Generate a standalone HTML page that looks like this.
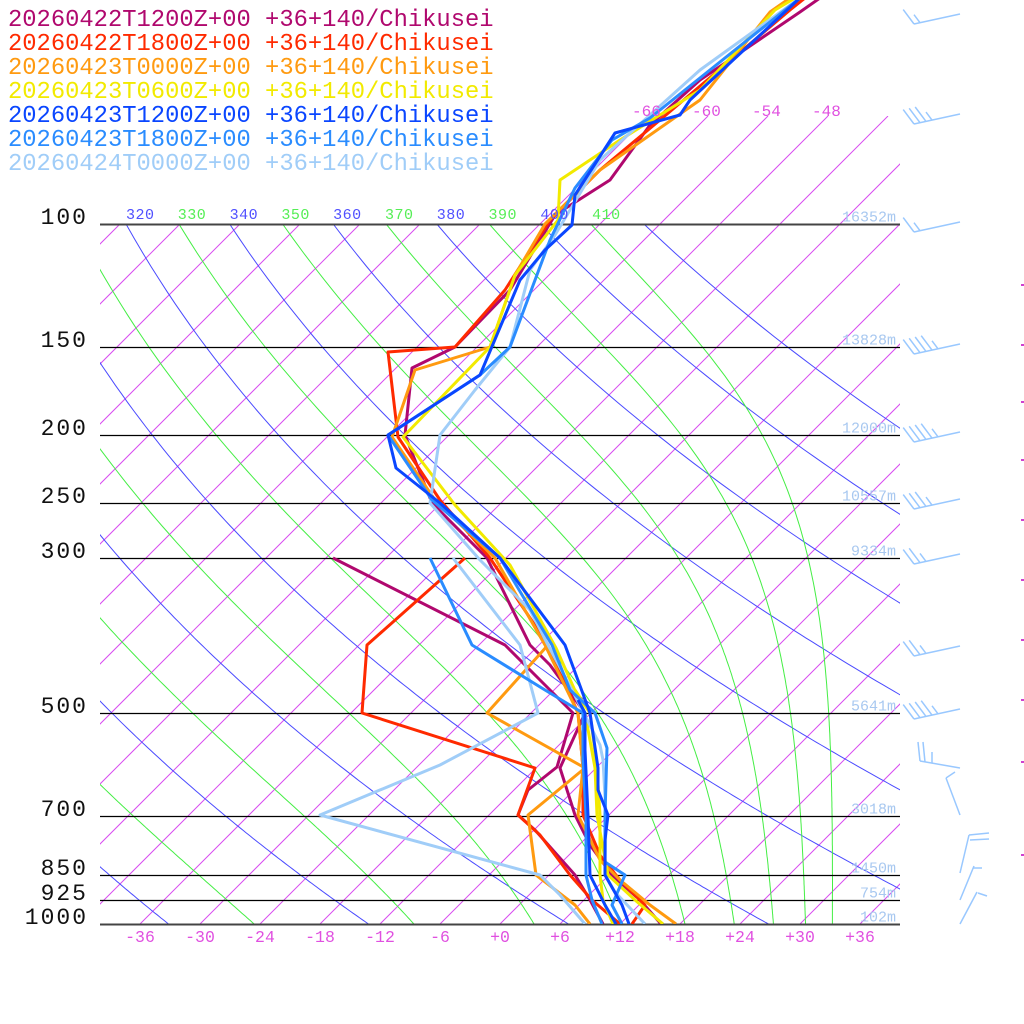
<!DOCTYPE html>
<html><head><meta charset="utf-8">
<style>
html,body{margin:0;padding:0;background:#fff;}
svg{display:block;}
text{font-family:"Liberation Mono",monospace;}
</style></head>
<body>
<svg id="s" width="1024" height="1024" viewBox="0 0 1024 1024" xmlns="http://www.w3.org/2000/svg">
<defs><clipPath id="cp"><rect x="100" y="0" width="800" height="924"/></clipPath>
<clipPath id="cpi"><rect x="100" y="116" width="800" height="808"/></clipPath></defs>
<g id="bg"></g>
<g id="lv"></g>
<g id="data" fill="none" stroke-width="3" stroke-linejoin="round" clip-path="url(#cp)"></g>
<g id="barbs" stroke="#99c8ff" stroke-width="1.5" fill="none"></g>
<g id="txt"></g>
</svg>
<script>
var NS="http://www.w3.org/2000/svg";
function el(p,tag,a,t){var e=document.createElementNS(NS,tag);for(var k in a)e.setAttribute(k,a[k]);if(t!==undefined)e.textContent=t;document.getElementById(p).appendChild(e);return e;}
function Y(p){return 924-304*Math.log(1000/p);}
function X(T,y){return 500+10*T+(924-y);}
var iso=[];
for(var T=-150;T<=40;T+=6){var y1=(T>=-66)?116:224,y2=924;iso.push("M"+X(T,y1)+","+y1+"L"+X(T,y2)+","+y2);}
var gi=el("bg","g",{"clip-path":"url(#cpi)"});
var pi=document.createElementNS(NS,"path");pi.setAttribute("d",iso.join(""));pi.setAttribute("stroke","#d84cf0");pi.setAttribute("stroke-width","1");pi.setAttribute("fill","none");gi.appendChild(pi);
var gc=el("bg","g",{"clip-path":"url(#cp)",fill:"none","stroke-width":"1"});
function dry(th){var d="";for(var p=100;p<=1000;p+=5){var y=Y(p);var T=th*Math.pow(p/1000,0.2857)-273.15;d+=(p==100?"M":"L")+X(T,y).toFixed(1)+","+y.toFixed(1);}return d;}
function the(T,p){var TK=T+273.15;var es=6.112*Math.exp(17.67*T/(T+243.5));var r=622*es/(p-es);if(r<0||p-es<=0)r=1e3;
return TK*Math.pow(1000/p,0.2854*(1-0.00028*r))*Math.exp((3.376/TK-0.00254)*r*(1+0.00081*r));}
function moist(te){var d="";for(var p=100;p<=1000;p+=5){var lo=-160,hi=45;for(var i=0;i<40;i++){var m=(lo+hi)/2;if(the(m,p)>te)hi=m;else lo=m;}var y=Y(p);d+=(p==100?"M":"L")+X(lo,y).toFixed(1)+","+y.toFixed(1);}return d;}
for(var th=200;th<=420;th+=20){var e=document.createElementNS(NS,"path");e.setAttribute("d",dry(th));e.setAttribute("stroke","#4a4aff");gc.appendChild(e);}
for(var te=210;te<=410;te+=20){var e=document.createElementNS(NS,"path");e.setAttribute("d",moist(te));e.setAttribute("stroke","#44ee44");gc.appendChild(e);}
for(var th=310;th<=410;th+=10){var T=th*Math.pow(0.1,0.2857)-273.15;var x=X(T,224);if(x<95)continue;
el("txt","text",{x:x,y:219,"font-size":"15","letter-spacing":"0.5",fill:(th%20==0)?"#5050ff":"#55ee55"},""+th);}
var lev=[[100,"100","16352m"],[150,"150","13828m"],[200,"200","12000m"],[250,"250","10557m"],[300,"300","9334m"],[500,"500","5641m"],[700,"700","3018m"],[850,"850","1450m"],[925,"925","754m"],[1000,"1000","102m"]];
lev.forEach(function(l){var y=Math.round(Y(l[0]))+0.5;var w=(l[0]==100||l[0]==1000)?2:1.2;
el("lv","line",{x1:100,x2:900,y1:y,y2:y,stroke:(w==2?"#444":"#000"),"stroke-width":w});
el("txt","text",{x:88,y:y-0.5,"text-anchor":"end","font-size":"23",fill:"#111","font-family":"Liberation Sans, sans-serif","letter-spacing":"2"},l[1]);
el("txt","text",{x:896,y:y-3,"text-anchor":"end","font-size":"15",fill:"#a8c8f0"},l[2]);});
for(var T=-36;T<=36;T+=6){el("txt","text",{x:500+10*T,y:942,"text-anchor":"middle","font-size":"16.5",fill:"#e050e0"},(T>=0?"+":"")+T);}
[-66,-60,-54,-48].forEach(function(T){el("txt","text",{x:X(T,116)-16,y:116,"font-size":"16",fill:"#e050e0"},""+T);});
var leg=[["20260422T1200Z+00","#b0086e"],["20260422T1800Z+00","#ff2a00"],["20260423T0000Z+00","#ff9a10"],["20260423T0600Z+00","#f2ea00"],["20260423T1200Z+00","#0a46ff"],["20260423T1800Z+00","#2a8cff"],["20260424T0000Z+00","#a0cdf8"]];
var cols=leg.map(function(l){return l[1];});
var D=[
[[661,924,640,900,612,875,590,845,575,815,560,768,585,713,550,665,530,645,487,558,432,503,405,435,412,368,455,347,510,290,555,215,610,180,650,125,700,80,800,12,820,-2],
 [603,924,590,900,575,875,535,830,518,815,528,790,557,767,573,713,545,685,505,645,333,558]],
[[632,924,645,905,620,880,600,855,583,815,583,768,578,713,548,645,490,558,440,500,398,437,388,352,455,347,505,290,550,220,600,170,660,120,790,10,805,-2],
 [620,924,592,900,570,875,540,835,518,815,535,768,362,713,367,645,465,558]],
[[676,924,650,905,620,880,600,860,578,815,583,768,578,713,545,645,495,558,435,500,392,437,415,370,490,347,515,275,545,224,600,170,700,100,770,12,790,-2],
 [590,924,575,905,536,875,528,815,585,768,487,713,548,645]],
[[663,924,635,900,608,875,597,815,595,768,585,713,556,648,510,565,455,505,403,437,490,347,515,275,558,220,560,180,620,140,700,90,775,10,795,-2],
 [613,924,603,900,600,875,600,815,597,768,590,713,575,690]],
[[629,924,622,905,605,875,605,840,608,815,598,790,598,768,590,713,565,645,500,558,440,503,396,468,388,435,480,375,520,280,545,250,572,225,575,195,615,133,680,115,690,100,800,-2],
 [616,924,605,905,590,875,588,815,585,750,585,713,578,700]],
[[622,924,612,905,625,875,605,862,605,815,607,748,595,713,570,690,552,645,500,558,432,500,388,435,480,375,510,347,550,240,575,188,612,140,650,118,800,-2],
 [602,924,592,900,586,875,586,815,583,760,583,713,545,690,472,645,430,558]],
[[645,924,615,892,605,875,606,815,603,760,600,745,572,690,548,645,530,610,480,560,430,503,440,435,475,390,510,347,530,270,555,235,600,160,700,70,800,-2],
 [585,924,560,895,540,875,320,815,440,765,538,713,520,645,453,558]]
];
var order=[0,1,2,3,6,5,4];
order.forEach(function(i){D[i].forEach(function(pts){var d="";for(var k=0;k<pts.length;k+=2)d+=(k?"L":"M")+pts[k]+","+pts[k+1];
el("data","path",{d:d,stroke:cols[i]});});});
leg.forEach(function(l,i){el("txt","text",{x:8,y:26+i*24,"font-size":"23.8",fill:l[1]},l[0]+" +36+140/Chikusei");});
function barb(y,n,sh){var sx=960,sy=y-6,ex=914,ey=y+4;el("barbs","line",{x1:sx,y1:sy,x2:ex,y2:ey});
for(var k=0;k<n;k++){var bx=ex+k*6,by=ey-k*1.3;var L=(k==n-1&&sh)?10:18;el("barbs","line",{x1:bx,y1:by,x2:bx-L*0.6,y2:by-L*0.8});}}
barb(20,2,true);barb(120,4,true);barb(228,2,true);barb(350,5,true);barb(438,5,true);barb(505,4,true);barb(560,3,true);barb(652,3,true);barb(715,5,true);
function ln(a,b,c,d){el("barbs","line",{x1:a,y1:b,x2:c,y2:d});}
ln(960,768,920,761);ln(920,761,918,742);ln(925,762,923,742);ln(932,763,932,752);
ln(960,815,946,778);ln(946,778,955,772);
ln(960,873,969,835);ln(969,835,989,833);ln(970,840,989,839);
ln(960,900,974,866);ln(973,868,982,868);
ln(960,924,977,892);ln(978,893,987,896);
[285,345,402,460,520,580,640,700,762,855].forEach(function(y){el("bg","line",{x1:1021,x2:1024,y1:y,y2:y,stroke:"#d040d0","stroke-width":"2"});});
</script>
</body></html>
